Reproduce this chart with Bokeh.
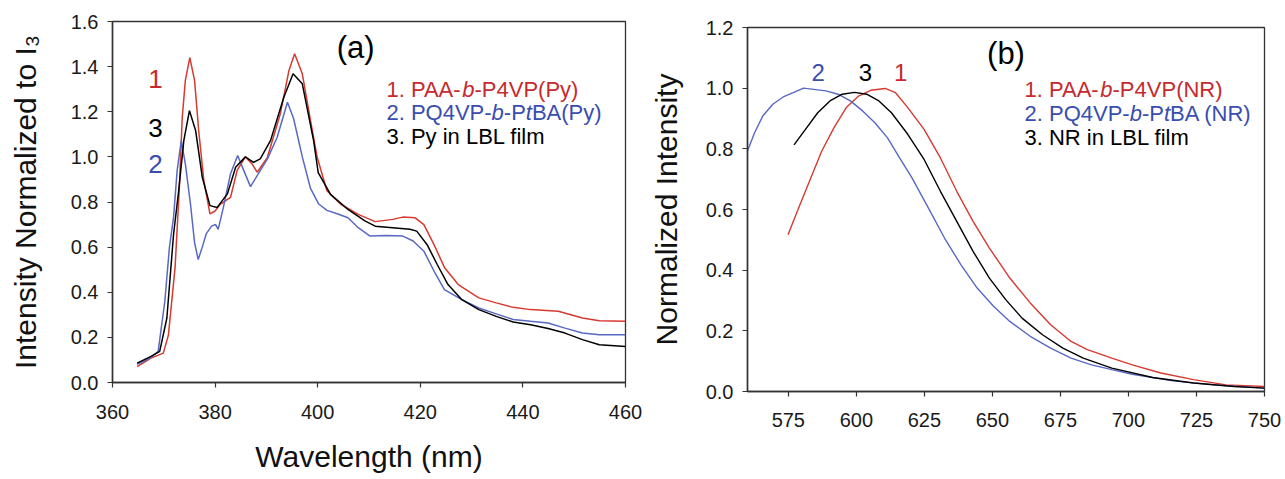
from bokeh.plotting import figure
from bokeh.models import Label, FixedTicker, Range1d, NumeralTickFormatter, Spacer
from bokeh.layouts import row, column
from bokeh.embed import file_html
from bokeh.resources import INLINE

FONT = "Liberation Sans"
RED_LINE = "#d63a30"
BLUE_LINE = "#5868c4"
RED_TXT = "#c62a2e"
BLUE_TXT = "#3a4db0"

# ---------------- Panel (a) data: pyrene emission ----------------
a_red_x = [364.8, 367.5, 369.9, 370.9, 372.2, 373.0, 373.6, 374.2, 375.07, 376.0, 376.8, 377.8,
           379.0, 380.0, 381.0, 383.0, 384.3, 385.9, 387.2, 388.2, 390.2, 392.7, 394.4, 395.5,
           397.0, 398.6, 399.9, 401.8, 404.5, 407.9, 411.2, 414.6, 416.6, 419.0, 420.7, 422.7,
           424.7, 427.4, 431.4, 434.8, 438.1, 441.5, 446.9, 451.6, 454.9, 460.0]
a_red_y = [0.07, 0.108, 0.13, 0.21, 0.51, 0.85, 1.176, 1.339, 1.44, 1.339, 1.117, 0.895,
           0.747, 0.76, 0.79, 0.82, 0.94, 1.0, 0.969, 0.932, 0.998, 1.19, 1.383, 1.457,
           1.368, 1.161, 0.998, 0.85, 0.79, 0.745, 0.713, 0.723, 0.733, 0.73, 0.70, 0.61,
           0.51, 0.434, 0.375, 0.353, 0.333, 0.323, 0.316, 0.286, 0.274, 0.271]

a_black_x = [364.8, 367.5, 369.2, 370.6, 371.9, 372.9, 373.9, 375.0, 376.2, 377.5, 379.0, 380.4,
             382.4, 384.0, 385.9, 387.5, 388.8, 390.8, 393.4, 395.2, 397.0, 399.2, 400.1, 402.5,
             405.9, 409.2, 411.2, 414.6, 418.0, 419.3, 421.3, 423.3, 425.4, 428.1, 431.4, 434.8,
             438.1, 441.5, 444.9, 448.2, 451.6, 454.9, 460.0]
a_black_y = [0.086, 0.116, 0.138, 0.286, 0.656, 0.85, 1.072, 1.205, 1.117, 0.91, 0.784, 0.776,
             0.836, 0.954, 1.0, 0.976, 0.991, 1.072, 1.264, 1.368, 1.324, 1.072, 0.93, 0.834,
             0.767, 0.716, 0.693, 0.686, 0.679, 0.671, 0.612, 0.523, 0.434, 0.367, 0.323, 0.293,
             0.268, 0.256, 0.239, 0.219, 0.19, 0.167, 0.16]

a_blue_x = [364.8, 367.5, 368.9, 370.2, 371.1, 371.9, 372.6, 373.4, 374.2, 375.2, 376.0, 376.7,
            377.5, 378.3, 379.3, 380.1, 380.6, 381.6, 383.0, 384.4, 385.6, 386.9, 388.8, 390.2,
            392.1, 394.1, 395.3, 397.0, 398.6, 400.2, 401.8, 403.8, 405.9, 407.9, 410.2, 413.3,
            416.6, 418.6, 420.7, 422.7, 424.7, 428.1, 431.4, 434.8, 438.1, 441.5, 444.9, 448.2,
            451.6, 454.9, 460.0]
a_blue_y = [0.081, 0.111, 0.138, 0.36, 0.60, 0.732, 0.939, 1.072, 0.969, 0.791, 0.62, 0.545,
            0.60, 0.66, 0.693, 0.70, 0.679, 0.775, 0.925, 1.006, 0.939, 0.868, 0.939, 0.991,
            1.087, 1.242, 1.17, 1.0, 0.86, 0.791, 0.763, 0.748, 0.73, 0.686, 0.649, 0.652,
            0.649, 0.627, 0.582, 0.493, 0.412, 0.367, 0.33, 0.304, 0.279, 0.271, 0.264, 0.241,
            0.219, 0.212, 0.212]

a_xticks = [360, 380, 400, 420, 440, 460]
a_yticks = [0.0, 0.2, 0.4, 0.6, 0.8, 1.0, 1.2, 1.4, 1.6]

# ---------------- Panel (b) data: Nile red emission ----------------
b_red_x = [574.9, 578.3, 582.8, 587.3, 591.8, 596.3, 600.8, 605.3, 610.6, 614.4, 618.9, 624.9,
           630.9, 636.9, 642.9, 648.9, 656.4, 663.9, 671.4, 678.9, 684.9, 693.9, 701.4, 711.9,
           723.9, 735.9, 750.0]
b_red_y = [0.517, 0.594, 0.694, 0.793, 0.87, 0.936, 0.974, 0.993, 0.999, 0.985, 0.936, 0.864,
           0.77, 0.66, 0.561, 0.473, 0.374, 0.292, 0.22, 0.165, 0.138, 0.11, 0.088, 0.061,
           0.039, 0.022, 0.0165]

b_blue_x = [560.0, 562.6, 565.6, 569.3, 573.1, 576.8, 580.6, 584.3, 588.8, 593.3, 597.8, 602.3,
            606.8, 611.4, 615.9, 620.4, 626.4, 632.4, 638.4, 644.4, 650.4, 656.4, 663.9, 671.4,
            678.9, 686.4, 693.9, 701.4, 716.4, 731.4, 750.0]
b_blue_y = [0.793, 0.853, 0.908, 0.947, 0.971, 0.985, 1.0, 0.996, 0.991, 0.98, 0.958, 0.925,
            0.886, 0.837, 0.77, 0.705, 0.606, 0.506, 0.418, 0.341, 0.281, 0.231, 0.182, 0.143,
            0.11, 0.088, 0.072, 0.057, 0.035, 0.022, 0.011]

b_black_x = [577.1, 581.3, 585.8, 590.3, 594.8, 599.3, 603.8, 608.3, 612.9, 618.9, 624.9, 630.9,
             636.9, 642.9, 648.9, 654.9, 660.9, 668.4, 675.9, 683.4, 693.9, 708.9, 723.9, 738.9,
             750.0]
b_black_y = [0.813, 0.864, 0.919, 0.958, 0.98, 0.986, 0.98, 0.958, 0.919, 0.848, 0.765, 0.66,
             0.561, 0.462, 0.374, 0.303, 0.242, 0.187, 0.143, 0.11, 0.077, 0.046, 0.028, 0.0165,
             0.011]

b_xticks = [575, 600, 625, 650, 675, 700, 725, 750]
b_yticks = [0.0, 0.2, 0.4, 0.6, 0.8, 1.0, 1.2]


def style(p, xticks, yticks, xlab, ylab, lab_standoff_x, title_standoff_x, title_standoff_y):
    p.xgrid.visible = False
    p.ygrid.visible = False
    p.background_fill_color = "white"
    p.border_fill_color = "white"
    p.outline_line_color = "#333333"
    p.outline_line_width = 1.3
    p.outline_line_alpha = 1.0
    p.xaxis.ticker = FixedTicker(ticks=xticks)
    p.yaxis.ticker = FixedTicker(ticks=yticks)
    p.yaxis.formatter = NumeralTickFormatter(format="0.0")
    for ax in (p.xaxis, p.yaxis):
        ax.axis_line_color = "#333333"
        ax.axis_line_width = 1.5
        ax.major_tick_line_color = "#333333"
        ax.major_tick_line_width = 1.2
        ax.major_tick_in = 0
        ax.major_tick_out = 5
        ax.minor_tick_line_color = None
        ax.major_label_text_font = FONT
        ax.major_label_text_font_size = "20px"
        ax.major_label_text_color = "#1a1a1a"
        ax.axis_label_text_font = FONT
        ax.axis_label_text_font_size = "30px"
        ax.axis_label_text_font_style = "normal"
        ax.axis_label_text_color = "#111111"
    p.xaxis.major_label_standoff = lab_standoff_x
    p.xaxis.axis_label_standoff = title_standoff_x
    p.yaxis.major_label_standoff = 9
    p.yaxis.axis_label_standoff = title_standoff_y
    if xlab:
        p.xaxis.axis_label = xlab
    p.yaxis.axis_label = ylab


def add_text(p, x, y, text, color, size, align="left", italic=False, xoff=0):
    p.add_layout(Label(x=x, y=y, text=text, text_color=color, text_font=FONT,
                       text_font_size=size, text_align=align, text_baseline="middle",
                       text_font_style="italic" if italic else "normal", x_offset=xoff))


def legend_line(p, x, y, parts, color, size_px):
    # parts: list of (text, italic, advance_em)
    off = 0.0
    for txt, it, adv in parts:
        add_text(p, x, y, txt, color, f"{size_px}px", italic=it, xoff=off)
        off += adv * size_px


# ---------------- Figure (a) ----------------
p1 = figure(width=646, height=479, x_range=Range1d(360, 460), y_range=Range1d(0, 1.6),
            output_backend="svg", toolbar_location=None,
            min_border_left=112, min_border_right=21, min_border_top=21, min_border_bottom=97)
style(p1, a_xticks, a_yticks, "Wavelength (nm)", "Intensity Normalized to I\u2083", 17, 18, 26)
p1.line(a_red_x, a_red_y, line_color=RED_LINE, line_width=1.5)
p1.line(a_blue_x, a_blue_y, line_color=BLUE_LINE, line_width=1.5)
p1.line(a_black_x, a_black_y, line_color="black", line_width=1.5)

add_text(p1, 407.4, 1.485, "(a)", "black", "31px", align="center")
add_text(p1, 368.4, 1.343, "1", RED_TXT, "26px", align="center")
add_text(p1, 368.4, 1.13, "3", "black", "26px", align="center")
add_text(p1, 368.4, 0.97, "2", BLUE_TXT, "26px", align="center")

LS = 22
legend_line(p1, 413.4, 1.30, [("1. PAA-", False, 3.446), ("b", True, 0.556), ("-P4VP(Py)", False, 0)], RED_TXT, LS)
legend_line(p1, 413.4, 1.195, [("2. PQ4VP-", False, 4.780), ("b", True, 0.556), ("-P", False, 1.0),
                               ("t", True, 0.278), ("BA(Py)", False, 0)], BLUE_TXT, LS)
legend_line(p1, 413.4, 1.09, [("3. Py in LBL film", False, 0)], "black", LS)

# ---------------- Figure (b) ----------------
p2 = figure(width=638, height=473, x_range=Range1d(560, 750), y_range=Range1d(0, 1.2),
            output_backend="svg", toolbar_location=None,
            min_border_left=100, min_border_right=20, min_border_top=21, min_border_bottom=88)
style(p2, b_xticks, b_yticks, None, "Normalized Intensity", 16, 8, 20)
p2.line(b_red_x, b_red_y, line_color=RED_LINE, line_width=1.4)
p2.line(b_blue_x, b_blue_y, line_color=BLUE_LINE, line_width=1.4)
p2.line(b_black_x, b_black_y, line_color="black", line_width=1.4)

add_text(p2, 655.4, -0.222, "Wavelength (nm)", "#111111", "30px", align="center")
add_text(p2, 655.0, 1.114, "(b)", "black", "31px", align="center")
add_text(p2, 586.0, 1.052, "2", BLUE_TXT, "24px", align="center")
add_text(p2, 603.3, 1.052, "3", "black", "24px", align="center")
add_text(p2, 616.3, 1.052, "1", RED_TXT, "24px", align="center")

legend_line(p2, 661.8, 0.995, [("1. PAA-", False, 3.446), ("b", True, 0.556), ("-P4VP(NR)", False, 0)], RED_TXT, LS)
legend_line(p2, 661.8, 0.917, [("2. PQ4VP-", False, 4.780), ("b", True, 0.556), ("-P", False, 1.0),
                               ("t", True, 0.278), ("BA (NR)", False, 0)], BLUE_TXT, LS)
legend_line(p2, 661.8, 0.839, [("3. NR in LBL film", False, 0)], "black", LS)

layout = row(p1, column(Spacer(width=638, height=6), p2))
open("out.html", "w").write(file_html(layout, INLINE))
